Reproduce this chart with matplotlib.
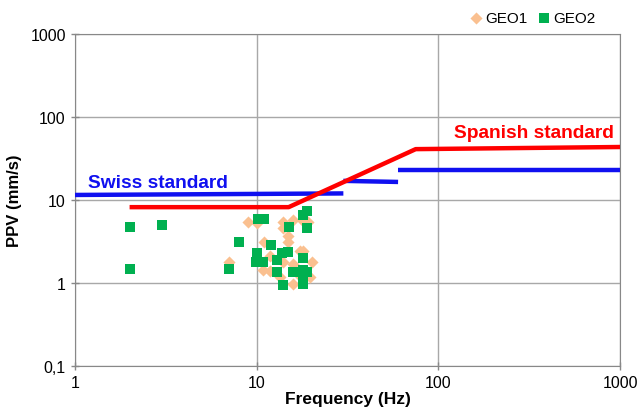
import numpy as np
import matplotlib.pyplot as plt
from matplotlib.ticker import FixedLocator, FixedFormatter, NullLocator

plt.rcParams['font.family'] = ['Liberation Sans', 'DejaVu Sans']

# ── dati ──────────────────────────────────────────────────────────────────
geo1_f = [8.96, 10.04, 13.95, 15.84, 13.95, 17.98, 19.15, 14.87, 14.87, 10.97,
          17.31, 17.98, 11.84, 20.15, 7.04, 10.83, 11.84, 13.95, 15.84, 19.65,
          15.84, 13.44, 17.31, 16.25]
geo1_v = [5.43, 5.28, 5.43, 5.74, 4.60, 5.58, 5.43, 3.68, 3.12, 3.12,
          2.43, 2.43, 2.12, 1.79, 1.79, 1.43, 1.39, 1.79, 1.69, 1.18,
          0.97, 1.18, 1.21, 1.43]

geo2_f = [2.0, 3.0, 2.0, 7.04, 7.99, 10.17, 10.97, 18.92, 17.98, 15.06, 18.92,
          11.99, 10.04, 13.78, 14.87, 17.98, 9.91, 10.83, 12.93, 12.93,
          15.84, 17.98, 18.92, 13.95, 17.98, 17.98]
geo2_v = [4.7, 5.0, 1.48, 1.47, 3.12, 5.9, 5.9, 7.37, 6.6, 4.73, 4.60,
          2.87, 2.30, 2.30, 2.36, 2.0, 1.79, 1.79, 1.89, 1.36,
          1.36, 1.43, 1.36, 0.95, 0.97, 1.15]

swiss_seg = [([1, 30], [11.5, 12.0]), ([30, 60], [17.0, 16.5]), ([60, 1000], [23, 23])]
spain_f = [2, 15, 75, 1000]
spain_v = [8.2, 8.2, 41, 43.5]

yticks = [0.1, 1, 10, 100, 1000]
ylabels = ["0,1", "1", "10", "100", "1000"]
xticks = [1, 10, 100, 1000]
xlabels = ["1", "10", "100", "1000"]

# ── figura ──────────────────────────────────────────────────────────────────
fig = plt.figure(figsize=(6.4, 4.14), dpi=100)
ax = fig.add_axes([0.117, 0.1135, 0.852, 0.802])
ax.set_xscale("log"); ax.set_yscale("log")
ax.set_xlim(1, 1000); ax.set_ylim(0.1, 1000)

for xs, ys in swiss_seg:
    ax.plot(xs, ys, color="#1010F0", lw=3.2, solid_capstyle="butt", zorder=3)
ax.plot(spain_f, spain_v, color="#FF0000", lw=3.2, solid_capstyle="butt", zorder=4)

ax.scatter(geo1_f, geo1_v, marker="D", s=38, color="#FAC090", lw=0, zorder=5, label="GEO1")
ax.scatter(geo2_f, geo2_v, marker="s", s=42, color="#00B050", lw=0, zorder=6, label="GEO2")

ax.text(1.18, 14.3, "Swiss standard", color="#1010F0", fontsize=13.8, fontweight="bold")
ax.text(920, 57, "Spanish standard", color="#FF0000", fontsize=13.8, fontweight="bold", ha="right")

ax.xaxis.set_major_locator(FixedLocator(xticks))
ax.xaxis.set_major_formatter(FixedFormatter(xlabels))
ax.yaxis.set_major_locator(FixedLocator(yticks))
ax.yaxis.set_major_formatter(FixedFormatter(ylabels))
ax.xaxis.set_minor_locator(NullLocator()); ax.yaxis.set_minor_locator(NullLocator())
ax.tick_params(direction="inout", length=6, color="#888888", labelsize=11.5, width=1)
ax.grid(True, color="#a8a8a8", lw=1)
for s in ax.spines.values():
    s.set_color("#888888")

ax.set_xlabel("Frequency (Hz)", fontsize=12.5, fontweight="bold", labelpad=1)
ax.set_ylabel("PPV (mm/s)", fontsize=12, fontweight="bold", labelpad=6)

ax.legend(loc="lower right", bbox_to_anchor=(0.975, 0.995), ncol=2, frameon=False,
          fontsize=11, handletextpad=0.1, columnspacing=0.6, borderpad=0.2,
          handlelength=1.0)

plt.savefig("out.png", dpi=100)
